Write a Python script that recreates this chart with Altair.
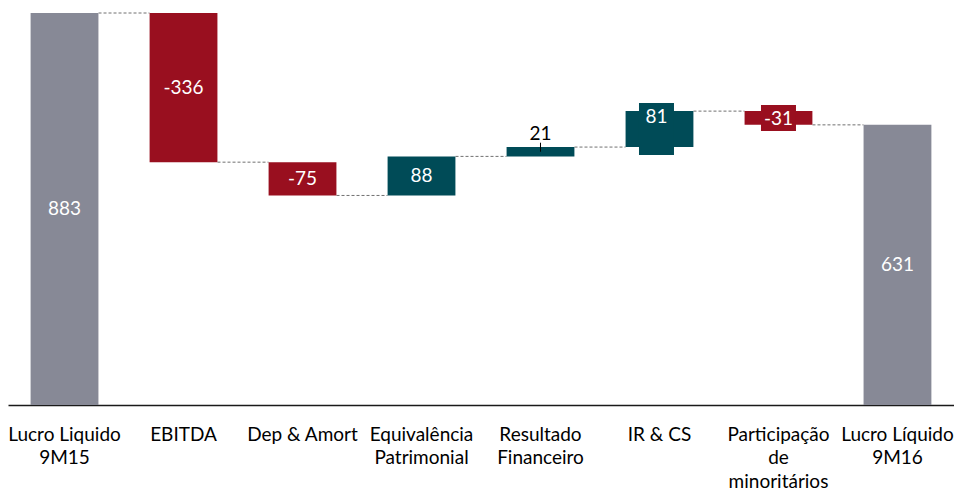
import altair as alt
import pandas as pd

categories = ["Lucro Liquido|9M15", "EBITDA", "Dep & Amort", "Equivalência|Patrimonial",
              "Resultado|Financeiro", "IR & CS", "Participação|de|minoritários", "Lucro Líquido|9M16"]
values = [883, -336, -75, 88, 21, 81, -31, 631]
kinds = ["total", "neg", "neg", "pos", "pos", "pos", "neg", "total"]
labels = ["883", "-336", "-75", "88", "21", "81", "-31", "631"]

rows = []
running = 0
for c, v, k, l in zip(categories, values, kinds, labels):
    if k == "total":
        start, end = 0, v
    else:
        start, end = running, running + v
    running = end
    rows.append(dict(cat=c, start=start, end=end, mid=(start + end) / 2, kind=k, label=l))
df = pd.DataFrame(rows)
conn = pd.DataFrame({"cat": categories[:-1], "next": categories[1:], "level": list(df["end"][:-1])})

FONT = "Lato"
axis = alt.Axis(title=None, labelAngle=0, ticks=False, labelExpr="split(datum.label, '|')",
                labelFont=FONT, labelFontSize=19, labelColor="#000", labelPadding=20,
                labelLineHeight=23.5, labelLimit=0, domainColor="#1a1a1a", domainWidth=1.5,
                grid=False, labelBaseline="top")
xscale = alt.Scale(paddingInner=0.43, paddingOuter=0.19)
xenc = alt.X("cat:N", sort=categories, scale=xscale, axis=axis)
yscale = alt.Scale(domain=[0, 883], nice=False, zero=True)

base = alt.Chart(df)

bars = base.mark_bar().encode(
    x=xenc,
    y=alt.Y("start:Q", scale=yscale, axis=None),
    y2="end:Q",
    color=alt.Color("kind:N", scale=alt.Scale(domain=["total", "neg", "pos"],
                                              range=["#878996", "#990f1f", "#004b57"]), legend=None),
)

connectors = alt.Chart(conn).mark_rule(color="#707070", strokeDash=[3, 2], strokeWidth=1,
                                       xOffset=34, x2Offset=-34).encode(
    x=alt.X("cat:N", sort=categories, scale=xscale, axis=axis, bandPosition=0.5),
    x2=alt.X2("next:N", bandPosition=0.5),
    y=alt.Y("level:Q", scale=yscale, axis=None),
)

inside = base.transform_filter(
    alt.FieldOneOfPredicate(field="cat", oneOf=[categories[i] for i in [0, 1, 2, 3, 7]])
).mark_text(color="white", font=FONT, fontSize=19, baseline="middle").encode(
    x=xenc, y=alt.Y("mid:Q", scale=yscale, axis=None), text="label:N")

f21 = alt.FieldEqualPredicate(field="cat", equal=categories[4])
text21 = base.transform_filter(f21).mark_text(color="#000", font=FONT, fontSize=19,
                                              baseline="middle", dy=-18).encode(
    x=xenc, y=alt.Y("mid:Q", scale=yscale, axis=None), text="label:N")
tick21 = base.transform_filter(f21).mark_rule(color="#000", strokeWidth=1, y2Offset=-9).encode(
    x=xenc, y=alt.Y("mid:Q", scale=yscale, axis=None), y2="mid:Q")

f81 = alt.FieldEqualPredicate(field="cat", equal=categories[5])
box81 = base.transform_filter(f81).mark_bar(width=35, yOffset=-26, y2Offset=26, xOffset=-3,
                                            color="#004b57").encode(
    x=xenc, y=alt.Y("mid:Q", scale=yscale, axis=None), y2="mid:Q")
text81 = base.transform_filter(f81).mark_text(color="white", font=FONT, fontSize=19,
                                              baseline="middle", dy=-12, dx=-3).encode(
    x=xenc, y=alt.Y("mid:Q", scale=yscale, axis=None), text="label:N")

f31 = alt.FieldEqualPredicate(field="cat", equal=categories[6])
box31 = base.transform_filter(f31).mark_bar(width=35, yOffset=-13, y2Offset=13,
                                            color="#990f1f").encode(
    x=xenc, y=alt.Y("mid:Q", scale=yscale, axis=None), y2="mid:Q")
text31 = base.transform_filter(f31).mark_text(color="white", font=FONT, fontSize=19,
                                              baseline="middle", dy=1).encode(
    x=xenc, y=alt.Y("mid:Q", scale=yscale, axis=None), text="label:N")

chart = alt.layer(connectors, bars, box81, box31, inside, text21, tick21, text81, text31).properties(
    width=946, height=392,
    background="white",
    autosize=alt.AutoSizeParams(type="none"),
    padding={"left": 0, "top": 5, "right": 0, "bottom": 88},
).configure_view(stroke=None)

chart.save("out.html", embed_options={"renderer": "svg", "actions": False})
